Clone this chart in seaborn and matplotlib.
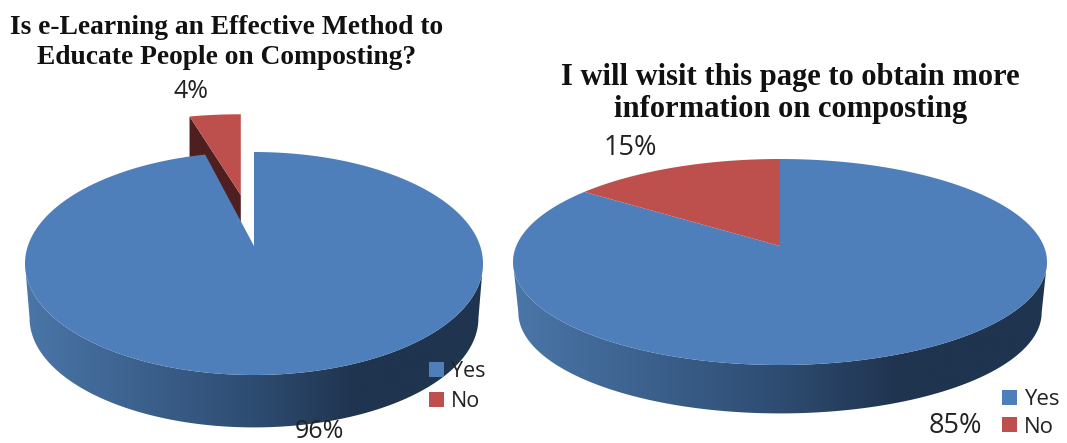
import numpy as np
import seaborn as sns
import matplotlib
matplotlib.use("Agg")
import matplotlib.pyplot as plt
from matplotlib.colors import LinearSegmentedColormap
from matplotlib.patches import Polygon
from matplotlib.transforms import Affine2D

categories = ["Yes", "No"]
elearning_values = [96, 4]
revisit_values = [85, 15]
elearning_title = "Is e-Learning an Effective Method to\nEducate People on Composting?"
revisit_title = "I will wisit this page to obtain more\ninformation on composting"

sns.set_theme(style="white")
W, H = 1067, 443
palette = sns.color_palette(["#4e7fbb", "#bd504d"])
wall_cmap = LinearSegmentedColormap.from_list(
    "wall", [(0, "#4a76a8"), (0.5, "#2e4c72"), (0.72, "#20344f"), (1, "#1f3450")])
LABEL_FONT = "Open Sans"

fig = plt.figure(figsize=(W / 100, H / 100), dpi=100, facecolor="white")


def px(x, y):
    return x / W, 1 - y / H


def tilt(xy, c):
    """Perspective map of the unit disc onto itself, moving its centre to (0, c)."""
    d = 1 + c * xy[:, 1]
    return np.column_stack((xy[:, 0] * np.sqrt(1 - c**2) / d, (xy[:, 1] + c) / d))


def draw_pie(values, cx, cy, a, b, c, explode, shrink, title, title_xy, title_size, line_gap,
             value_xy, value_size, legend_xy, legend_size, legend_gap):
    ax = fig.add_axes([0, 0, 1, 1], facecolor="none")
    wedges, _ = ax.pie(values, colors=palette, startangle=90, counterclock=False,
                       explode=explode, radius=1, center=(0, 0), frame=False)
    ax.set_aspect("auto")
    ax.axis("off")

    # side wall: gradient between the top rim and the rim of the base
    depth, base = 0.49, 0.98
    t = np.linspace(np.pi, 2 * np.pi, 400)
    upper = np.column_stack((np.cos(t), np.sin(t)))
    lower = (upper * base - [0, depth])[::-1]
    band = np.vstack((upper, lower))
    img = ax.imshow(np.linspace(0, 1, 256)[None, :], cmap=wall_cmap, aspect="auto",
                    extent=(-1, 1, -1 - depth - 0.05, 0.1), zorder=1)
    ax.set_xlim(-cx / a, (W - cx) / a)
    ax.set_ylim((cy - H) / b, cy / b)
    clip = Polygon(band, closed=True, transform=ax.transData, fc="none", ec="none")
    ax.add_patch(clip)
    img.set_clip_path(clip)

    handles = []
    for wedge, color, s in zip(wedges, palette, shrink):
        centre = np.array(wedge.center)
        # flatten the arc at high resolution so the rim stays smooth
        fine = wedge.get_path().transformed(Affine2D().scale(2000))
        flat = fine.to_polygons(closed_only=True)[0] / 2000 - centre
        warped = tilt(flat, c)
        apex = np.array([0.0, c])
        shape = centre + apex + np.array(s) * (warped - apex)
        z = 4 if s == (1, 1) else 3
        if s != (1, 1):  # exploded slice shows its cut face
            corner = shape[np.argmin(shape[:, 0])]
            tip = centre + apex
            drop = [0, depth * s[1]]
            face = np.array([corner, tip, tip - drop, corner - drop])
            ax.add_patch(Polygon(face, closed=True, fc="#4f1f1f", ec="none", zorder=2))
        patch = Polygon(shape, closed=True, fc=color, ec="none", zorder=z)
        ax.add_patch(patch)
        handles.append(patch)
        wedge.set_visible(False)

    fig.text(*px(*title_xy), title, family="Liberation Serif", weight="bold",
             fontsize=title_size, ha="center", va="center", linespacing=line_gap, color="#111111")
    for val, xy in zip(values, value_xy):
        fig.text(*px(*xy), f"{val}%", family=LABEL_FONT, fontsize=value_size,
                 ha="center", va="center", color="#222222", zorder=10)
    leg = ax.legend(handles, categories, loc="upper left", bbox_to_anchor=px(*legend_xy),
                    bbox_transform=fig.transFigure, frameon=False,
                    handlelength=10.5 / legend_size, handleheight=10.5 / legend_size,
                    handletextpad=0.35, labelspacing=legend_gap, borderpad=0, borderaxespad=0,
                    prop={"family": LABEL_FONT, "size": legend_size})
    leg.set_zorder(10)
    for text in leg.get_texts():
        text.set_color("#222222")


draw_pie(elearning_values, 254, 263.5, 229, 111.5, 0.157, [0, 0.46], [(1, 1), (1.05, 0.86)],
         elearning_title, (226.5, 42.5), 19.8, 1.3,
         [(319, 432), (191, 92)], 18, (429, 361), 15.5, 0.42)
draw_pie(revisit_values, 780, 262, 267, 103, 0.155, [0, 0], [(1, 1), (1, 1)],
         revisit_title, (790.5, 93.5), 22, 1.1,
         [(955, 426), (630, 148)], 19.5, (1002, 389), 16, 0.3)

fig.savefig("out.png", dpi=100)
